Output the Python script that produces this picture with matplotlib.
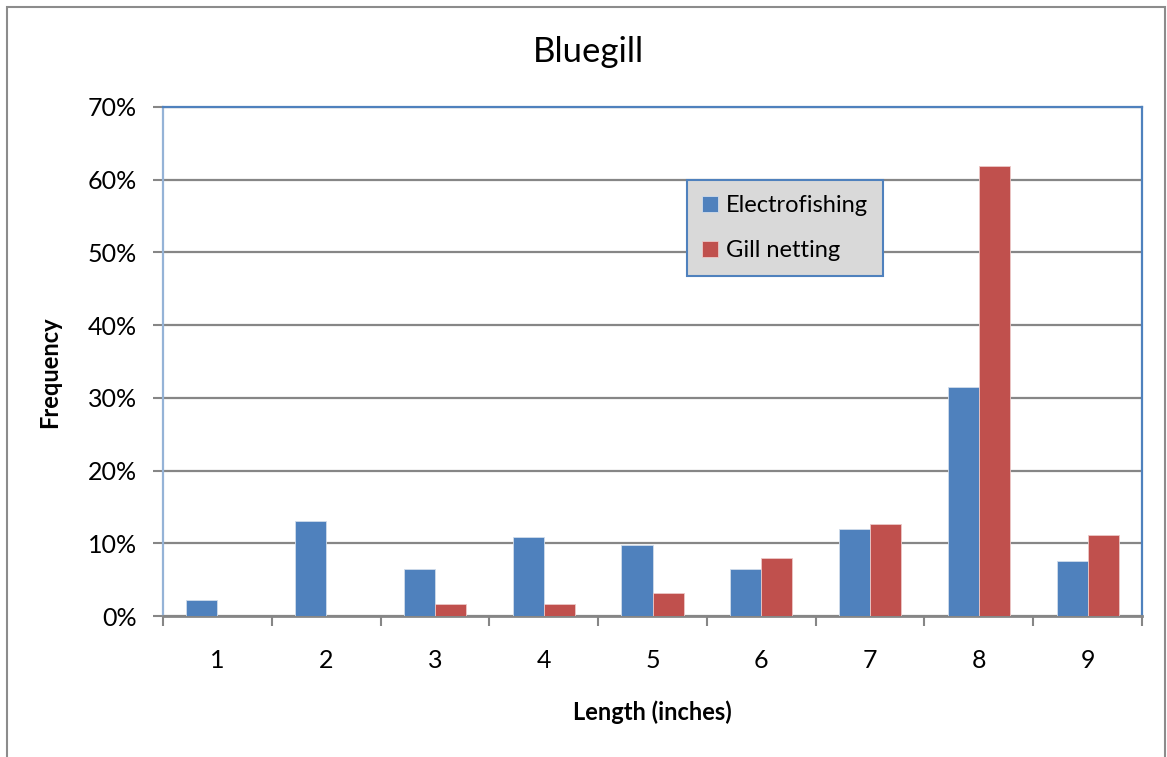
import matplotlib.pyplot as plt
import numpy as np
from matplotlib.patches import Rectangle
from matplotlib.ticker import PercentFormatter

plt.rcParams['font.family'] = ['Lato', 'DejaVu Sans']

lengths = ['1', '2', '3', '4', '5', '6', '7', '8', '9']
electrofishing = [2.17, 13.04, 6.52, 10.87, 9.78, 6.52, 11.96, 31.52, 7.61]
gill_netting = [0.0, 0.0, 1.59, 1.59, 3.17, 7.94, 12.70, 61.90, 11.11]

BLUE = '#4F81BD'
RED = '#C0504D'
GRID = '#868686'

fig = plt.figure(figsize=(11.67, 7.57), dpi=100)
# chart frame
fig.patches.append(Rectangle((7 / 1167, -0.01), 1158 / 1167, 1 - 7 / 757 + 0.01,
                             transform=fig.transFigure, fill=False,
                             edgecolor='#8C8C8C', linewidth=1.5))

ax = fig.add_axes([163 / 1167, 1 - 616 / 757, (1142 - 163) / 1167, (616 - 107) / 757])

x = np.arange(len(lengths))
w = 0.285
ax.bar(x - w / 2, electrofishing, width=w, color=BLUE, edgecolor='#D0DCEB',
       linewidth=0.6, label='Electrofishing', zorder=3)
ax.bar(x + w / 2, gill_netting, width=w, color=RED, edgecolor='#ECC8C7',
       linewidth=0.6, label='Gill netting', zorder=3)

ax.set_xlim(-0.5, len(lengths) - 0.5)
ax.set_ylim(0, 70)
ax.set_yticks(np.arange(0, 71, 10))
ax.yaxis.set_major_formatter(PercentFormatter(decimals=0))
ax.set_xticks(x)
ax.set_xticklabels(lengths)
ax.set_xticks(np.arange(-0.5, len(lengths)), minor=True)
ax.grid(axis='y', color=GRID, linewidth=1.6, zorder=0)

ax.tick_params(axis='x', which='major', length=0, pad=24, labelsize=18)
ax.tick_params(axis='x', which='minor', length=7, width=1.5, color=GRID)
ax.tick_params(axis='y', length=7, width=1.5, color=GRID, pad=12, labelsize=18)

for side in ['top', 'right']:
    ax.spines[side].set_color(BLUE)
    ax.spines[side].set_linewidth(1.6)
ax.spines['left'].set_color('#95B3D7')
ax.spines['left'].set_linewidth(1.6)
ax.spines['bottom'].set_color(GRID)
ax.spines['bottom'].set_linewidth(2)

fig.text(588 / 1167, 1 - 52 / 757, 'Bluegill', fontsize=25, ha='center', va='center')
fig.text(50 / 1167, 1 - 372 / 757, 'Frequency', fontsize=17, fontweight='bold',
         rotation=90, ha='center', va='center')
fig.text(652 / 1167, 1 - 712 / 757, 'Length (inches)', fontsize=17, fontweight='bold',
         ha='center', va='center')

leg = ax.legend(loc='upper left', bbox_to_anchor=((687 - 163) / 979, 1 - (180 - 107) / 509),
                fontsize=17, frameon=True, fancybox=False, handlelength=0.65,
                handleheight=0.65, handletextpad=0.35, labelspacing=1.0,
                borderpad=0.65, borderaxespad=0)
leg.get_frame().set_facecolor('#D9D9D9')
leg.get_frame().set_edgecolor(BLUE)
leg.get_frame().set_linewidth(1.5)
leg.get_frame().set_alpha(1)

fig.savefig('out.png', dpi=100)
